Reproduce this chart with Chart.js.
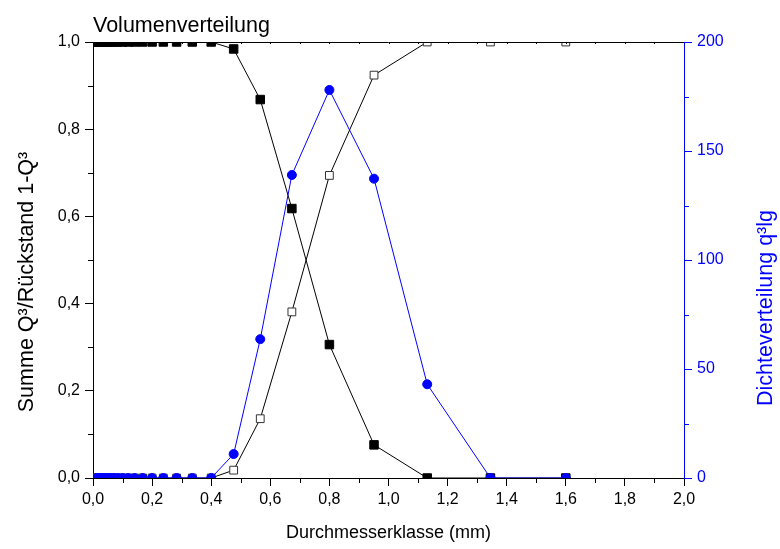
<!DOCTYPE html>
<html>
<head>
<meta charset="utf-8">
<script src="https://cdn.jsdelivr.net/npm/chart.js@4/dist/chart.umd.min.js"></script>
<style>
  html, body { margin: 0; padding: 0; background: #fff; }
  #wrap { width: 780px; height: 549px; position: relative; }
</style>
</head>
<body>
<div id="wrap"><canvas id="chart"></canvas></div>
<script>
const context = document.getElementById("chart");

// sieve classes (mm)
const sizes = [0.0125, 0.015, 0.018, 0.021, 0.025, 0.03, 0.035, 0.042, 0.05, 0.059, 0.071,
  0.084, 0.1, 0.119, 0.141, 0.168, 0.2, 0.238, 0.283, 0.336, 0.4,
  0.476, 0.566, 0.673, 0.8, 0.951, 1.131, 1.345, 1.6];

// Rückstand 1-Q3
const rueckstand = [1, 1, 1, 1, 1, 1, 1, 1, 1, 1, 1,
  1, 1, 1, 1, 1, 1, 1, 1, 1, 1,
  0.984, 0.868, 0.618, 0.306, 0.076, 0, 0, 0];

// Summe Q3
const summe = [0, 0, 0, 0, 0, 0, 0, 0, 0, 0, 0,
  0, 0, 0, 0, 0, 0, 0, 0, 0, 0,
  0.018, 0.136, 0.381, 0.694, 0.924, 1, 1, 1];

// Dichteverteilung q3lg
const dichte = [0, 0, 0, 0, 0, 0, 0, 0, 0, 0, 0,
  0, 0, 0, 0, 0, 0, 0, 0, 0, 0,
  11, 63.7, 139, 178, 137.3, 43, 0, 0];

const chartTitle = "Volumenverteilung";
const xTitle = "Durchmesserklasse (mm)";
const yTitle = "Summe Q\u00B3/Rückstand 1-Q\u00B3";
const y2Title = "Dichteverteilung q\u00B3lg";

const FONT = "'Liberation Sans', Arial, sans-serif";
const BLUE = "#0000ff";

function toPoints(values) {
  return values.map((v, i) => ({ x: sizes[i], y: v }));
}

function comma(v) {
  return v.toFixed(1).replace(".", ",");
}

// minor ticks, top frame line and titles
const decorations = {
  id: "decorations",
  afterDraw(chart) {
    const ctx = chart.ctx;
    const area = chart.chartArea;
    const sx = chart.scales.x;
    const sy = chart.scales.y;
    const sy2 = chart.scales.y2;
    ctx.save();
    ctx.lineWidth = 1;

    // top frame
    ctx.strokeStyle = "#000";
    ctx.beginPath();
    ctx.moveTo(area.left, Math.round(area.top) + 0.5);
    ctx.lineTo(area.right, Math.round(area.top) + 0.5);
    ctx.stroke();

    ctx.beginPath();
    for (let i = 1; i < 20; i += 2) {
      const px = Math.round(sx.getPixelForValue(i / 10)) + 0.5;
      ctx.moveTo(px, area.bottom);
      ctx.lineTo(px, area.bottom + 5);
    }
    for (let i = 1; i < 20; i++) {
      const px = Math.round(sx.getPixelForValue(i / 10)) + 0.5;
      ctx.moveTo(px, area.top);
      ctx.lineTo(px, area.top + 2);
    }
    for (let i = 1; i < 10; i += 2) {
      const py = Math.round(sy.getPixelForValue(i / 10)) + 0.5;
      ctx.moveTo(area.left, py);
      ctx.lineTo(area.left - 5, py);
    }
    ctx.stroke();

    ctx.strokeStyle = BLUE;
    ctx.beginPath();
    for (let v = 25; v < 200; v += 50) {
      const py = Math.round(sy2.getPixelForValue(v)) + 0.5;
      ctx.moveTo(area.right, py);
      ctx.lineTo(area.right + 5, py);
    }
    ctx.stroke();

    // texts
    ctx.fillStyle = "#000";
    ctx.font = "21.5px " + FONT;
    ctx.textAlign = "left";
    ctx.textBaseline = "alphabetic";
    ctx.fillText(chartTitle, 93, 32);

    ctx.textAlign = "center";
    ctx.textBaseline = "middle";
    ctx.save();
    ctx.translate(27, 282);
    ctx.rotate(-Math.PI / 2);
    ctx.fillText(yTitle, 0, 0);
    ctx.restore();

    ctx.save();
    ctx.fillStyle = BLUE;
    ctx.translate(766, 308);
    ctx.rotate(-Math.PI / 2);
    ctx.fillText(y2Title, 0, 0);
    ctx.restore();

    ctx.font = "18px " + FONT;
    ctx.fillText(xTitle, (area.left + area.right) / 2, 533);

    ctx.restore();
  },
};

const chart = new Chart(context, {
  type: "scatter",
  data: {
    datasets: [
      {
        label: "q3lg",
        data: toPoints(dichte),
        yAxisID: "y2",
        showLine: true,
        borderColor: BLUE,
        borderWidth: 1,
        backgroundColor: BLUE,
        pointStyle: "circle",
        pointRadius: 4.5,
        pointBorderWidth: 1,
        pointBorderColor: BLUE,
        pointBackgroundColor: BLUE,
        clip: 0,
      },
      {
        label: "1-Q3",
        data: toPoints(rueckstand),
        yAxisID: "y",
        showLine: true,
        borderColor: "#000",
        borderWidth: 1,
        pointStyle: "rect",
        pointRadius: 6,
        pointBorderWidth: 1,
        pointBorderColor: "#000",
        pointBackgroundColor: "#000",
        clip: 0,
      },
      {
        label: "Q3",
        data: toPoints(summe),
        yAxisID: "y",
        showLine: true,
        borderColor: "#000",
        borderWidth: 1,
        pointStyle: "rect",
        pointRadius: 5.5,
        pointBorderWidth: 1,
        pointBorderColor: "#333",
        pointBackgroundColor: "#fff",
        clip: 0,
      },
    ],
  },
  options: {
    responsive: true,
    maintainAspectRatio: false,
    animation: false,
    layout: {
      padding: { top: 42, right: 0, left: 0, bottom: 0 },
    },
    scales: {
      x: {
        type: "linear",
        position: "bottom",
        min: 0,
        max: 2,
        afterFit: (scale) => { scale.height = 71; },
        grid: { drawOnChartArea: false, drawTicks: true, tickLength: 8, color: "#000" },
        border: { display: true, color: "#000", width: 1 },
        ticks: {
          stepSize: 0.2,
          color: "#000",
          padding: 4,
          maxRotation: 0,
          font: { family: FONT, size: 16 },
          callback: (v) => comma(v),
        },
      },
      y: {
        type: "linear",
        position: "left",
        min: 0,
        max: 1,
        afterFit: (scale) => { scale.width = 93; },
        grid: { drawOnChartArea: false, drawTicks: true, tickLength: 8, color: "#000" },
        border: { display: true, color: "#000", width: 1 },
        ticks: {
          stepSize: 0.2,
          color: "#000",
          padding: 5,
          font: { family: FONT, size: 16 },
          callback: (v) => comma(v),
        },
      },
      y2: {
        type: "linear",
        position: "right",
        min: 0,
        max: 200,
        afterFit: (scale) => { scale.width = 96; },
        grid: { drawOnChartArea: false, drawTicks: true, tickLength: 8, color: BLUE },
        border: { display: true, color: BLUE, width: 1 },
        ticks: {
          stepSize: 50,
          color: BLUE,
          padding: 5,
          font: { family: FONT, size: 16 },
          callback: (v) => String(v),
        },
      },
    },
    plugins: {
      legend: { display: false },
      tooltip: { enabled: false },
    },
  },
  plugins: [decorations],
});
</script>
</body>
</html>
